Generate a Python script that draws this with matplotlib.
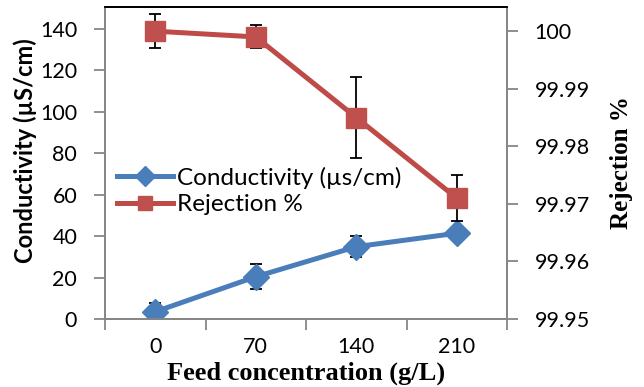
import numpy as np
import matplotlib.pyplot as plt
from matplotlib.lines import Line2D

feed = ["0", "70", "140", "210"]
conductivity = [3.5, 20.4, 34.9, 41.4]
cond_err = [4.0, 6.0, 5.2, 0.0]
rejection = [100.0, 99.999, 99.985, 99.971]
rej_err = [0.003, 0.002, 0.007, 0.004]

blue = "#4A7EBB"
red = "#BE4B48"
red_marker = "#C0504D"
grey = "#868686"

plt.rcParams["font.family"] = ["Lato", "DejaVu Sans"]

fig = plt.figure(figsize=(6.44, 3.87), dpi=100)
ax = fig.add_axes([105 / 644, 1 - 319 / 387, 402 / 644, 312 / 387])
ax2 = ax.twinx()

x = np.arange(len(feed))

ax.errorbar(x, conductivity, yerr=cond_err, color=blue, lw=3.6, marker="D",
            ms=13, mfc=blue, mec=blue, ecolor="black", elinewidth=1.3,
            capsize=4.5, capthick=1.3, zorder=3)
ax2.errorbar(x, rejection, yerr=rej_err, color=red, lw=3.6, marker="s",
             ms=14, mfc=red_marker, mec=red_marker, ecolor="black", elinewidth=1.3,
             capsize=4.5, capthick=1.3, zorder=3)

ax.set_xlim(-0.5, 3.5)
ax.set_ylim(0, 150.6)
ax.set_yticks(np.arange(0, 141, 20))
ax2.set_ylim(99.95, 100.0042)
ax2.set_yticks([99.95, 99.96, 99.97, 99.98, 99.99, 100.0])
ax2.set_yticklabels(["99.95", "99.96", "99.97", "99.98", "99.99", "100"])

ax.set_xticks(x)
ax.set_xticklabels(feed)
ax.set_xticks(np.arange(-0.5, 3.6, 1), minor=True)
ax.tick_params(axis="x", which="major", length=0, pad=13, labelsize=15.5)
ax.tick_params(axis="x", which="minor", length=8, width=1.3, color=grey)
ax.tick_params(axis="y", length=8, width=1.3, color=grey, labelsize=15.5, pad=12)
ax2.tick_params(axis="y", length=8, width=1.3, color=grey, labelsize=15.5, pad=12)

for a in (ax, ax2):
    a.spines["left"].set_color(grey)
    a.spines["right"].set_color(grey)
    a.spines["bottom"].set_color(grey)
    a.spines["top"].set_color("black")
    for s in a.spines.values():
        s.set_linewidth(1.3)

ax.set_ylabel("Conductivity (µS/cm)", fontsize=17, fontweight="bold")
ax.yaxis.set_label_coords(-0.199, 0.54)
ax.yaxis.label.set_va("center")
ax2.set_ylabel("Rejection %", fontsize=18, fontweight="bold",
               family="Liberation Serif", rotation=90)
ax2.yaxis.set_label_coords(1.285, 0.5)
ax2.yaxis.label.set_va("center")
ax.set_xlabel("Feed concentration (g/L)", fontsize=19, fontweight="bold",
              family="Liberation Serif")
ax.xaxis.set_label_coords(0.5, -0.175)
ax.xaxis.label.set_va("center")

# legend entries: line with a smaller marker, no error bars
handles = [
    Line2D([], [], color=blue, lw=3.6, marker="D", ms=10, mfc=blue, mec=blue),
    Line2D([], [], color=red, lw=3.6, marker="s", ms=10, mfc=red_marker, mec=red_marker),
]
labels = ["Conductivity (µs/cm)", "Rejection %"]
ax2.legend(handles, labels, loc="center left", bbox_to_anchor=(0.03, 0.41),
           frameon=False, fontsize=17.5, handlelength=2.3, handletextpad=0.15,
           labelspacing=0.22, borderpad=0, borderaxespad=0)

fig.savefig("out.png", dpi=100)
